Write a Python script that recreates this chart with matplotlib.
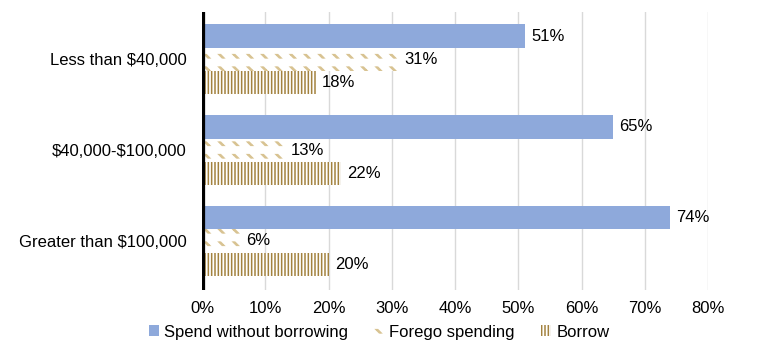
import warnings
warnings.filterwarnings("ignore")
import matplotlib
matplotlib.use("Agg")
import matplotlib.pyplot as plt
from matplotlib import hatch as mhatch
from matplotlib.path import Path
import numpy as np

plt.rcParams['font.family'] = ['Liberation Sans', 'DejaVu Sans']
plt.rcParams['hatch.linewidth'] = 1.1


class DashHatch(mhatch.HatchPatternBase):
    """Rows of short, thick downward-diagonal dashes (character 'd')."""
    def __init__(self, hatch, density):
        self.nx = 7 if 'd' in hatch else 0
        self.ny = 8 if 'd' in hatch else 0
        self.num_vertices = self.nx * self.ny * 5

    def set_vertices_and_codes(self, vertices, codes):
        k = 0
        for i in range(self.nx):
            for j in range(self.ny):
                x = (i + 0.5) / self.nx
                yy = (j + 0.5) / self.ny
                pts = [(x - 0.024, yy + 0.016), (x - 0.008, yy + 0.016),
                       (x + 0.024, yy - 0.016), (x + 0.008, yy - 0.016),
                       (x - 0.024, yy + 0.016)]
                for m, p in enumerate(pts):
                    vertices[k + m] = p
                    codes[k + m] = Path.MOVETO if m == 0 else (
                        Path.CLOSEPOLY if m == 4 else Path.LINETO)
                k += 5


mhatch._hatch_types.append(DashHatch)

categories = ["Less than \\$40,000", "\\$40,000-\\$100,000", "Greater than \\$100,000"]
series = ["Spend without borrowing", "Forego spending", "Borrow"]
spend = [51, 65, 74]
forego = [31, 13, 6]
borrow = [18, 22, 20]
xticks = [0, 10, 20, 30, 40, 50, 60, 70, 80]

fig = plt.figure(figsize=(7.58, 3.6), dpi=100)
ax = fig.add_axes([202/758, 1-290/360, (708-202)/758, (290-12)/360])

y = np.arange(len(categories))
h = 0.255
ax.barh(y - h, spend, height=h, color='#8EA9DB', edgecolor='none', label=series[0], zorder=2)
ax.barh(y, forego, height=h, color='white', edgecolor='#D8C392', hatch='d', linewidth=0, label=series[1], zorder=2)
ax.barh(y + h, borrow, height=h, color='white', edgecolor='#A3823F', hatch='|||||', linewidth=0, label=series[2], zorder=2)

for vals, off in [(spend, -h), (forego, 0), (borrow, h)]:
    for i, v in enumerate(vals):
        ax.text(v + 1.0, y[i] + off, f"{v}%", va='center', ha='left', fontsize=12, color='black')

ax.set_xlim(0, 80)
ax.set_ylim(2.54, -0.52)
ax.set_xticks(xticks)
ax.set_xticklabels([f"{t}%" for t in xticks], fontsize=12)
ax.set_yticks(y)
ax.set_yticklabels(categories, fontsize=12)
ax.tick_params(axis='x', length=0, pad=8)
ax.tick_params(axis='y', length=0, pad=11)
ax.grid(axis='x', color='#D9D9D9', linewidth=1, zorder=0)
for s in ['top', 'right', 'bottom', 'left']:
    ax.spines[s].set_visible(False)
ax.axvline(0, color='black', linewidth=4.5, solid_capstyle='round', zorder=5)

leg = fig.legend(loc='lower center', bbox_to_anchor=(0.5, 0.015), ncol=3, frameon=False,
                 fontsize=12, handlelength=0.6, handleheight=0.6, handletextpad=0.3,
                 columnspacing=1.6)
fig.savefig("out.png", dpi=100)
